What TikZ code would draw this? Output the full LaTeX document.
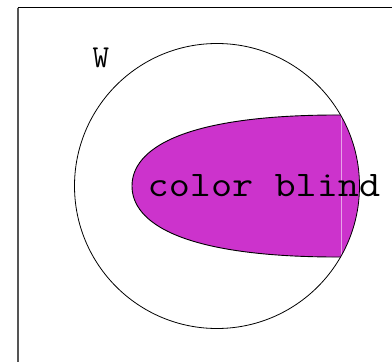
\documentclass[tikz,border=0pt]{standalone}
\usepackage{xcolor}
\definecolor{blindFill}{HTML}{CC33CC}
\definecolor{blindSeam}{HTML}{E7A3E7}
\definecolor{frameSide}{HTML}{555555}

\begin{document}
\begin{tikzpicture}[x=1pt, y=-1pt]
  \useasboundingbox (0,0) rectangle (392,362);
  \filldraw[fill=white, draw=none] (0,0) rectangle (392,362);
  \coordinate (tl) at (17.5,7.5);
  \coordinate (tr) at (392,7.5);
  \coordinate (bl) at (17.5,362);
  \draw[frameSide, line width=2pt] (tl) -- (bl);
  \draw[black, line width=1.4pt] (tl) -- (tr);
  \begin{scope}
    \clip (217,186) circle [radius=142.5pt];
    \fill[blindFill] (132,186) .. controls (132,150) and (180,114) .. (345,115) -- (380,115)
      -- (380,257) -- (345,257) .. controls (180,258) and (132,222) .. (132,186);
    \draw[black, line width=0.9pt] (345,115) .. controls (180,114) and (132,150) .. (132,186)
      .. controls (132,222) and (180,258) .. (345,257);
    \draw[blindSeam, line width=0.5pt] (341,110) -- (341,262);
  \end{scope}
  \node[circle, draw, line width=0.8pt, inner sep=0pt, minimum size=285pt] (world) at (217,186) {};
  \node[anchor=base west, inner sep=0pt, font=\ttfamily\fontsize{36}{36}\selectfont] (blind) at (147.5,196.5) {\scalebox{1.14}[1]{color blind}};
  \node[anchor=base west, inner sep=0pt, font=\ttfamily\fontsize{32}{32}\selectfont] (wlabel) at (92.5,67.7) {W};
\end{tikzpicture}
\end{document}
